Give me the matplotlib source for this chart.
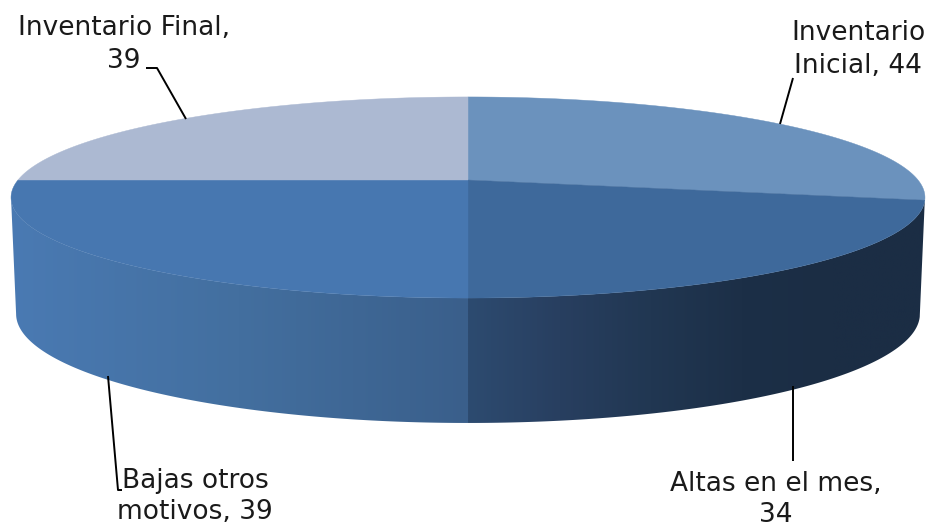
import numpy as np
import matplotlib
matplotlib.use('Agg')
import matplotlib.pyplot as plt
from matplotlib.patches import Polygon
from matplotlib.colors import LinearSegmentedColormap

# clockwise from 12 o'clock
categories = ['Inventario\nInicial', 'Altas en el mes', 'Bajas otros\nmotivos', 'Inventario Final']
values = [44, 34, 39, 39]
top_colors = ['#6b92bd', '#3e699b', '#4777b0', '#acb9d2']

# wall colours, left to right
wall_colors = {1: ['#2d4b70', '#283f60', '#213752', '#1c2f47', '#1b2d44', '#1b2d44'],
               2: ['#4a7ab3', '#436f9f', '#3a5f8b']}

label_pos = [(858, 49.5), (776, 499.5), (195, 496.5), (124, 44.5)]
label_lines = [
    [(793, 78), (780, 124)],
    [(793, 386), (793, 461)],
    [(108, 376), (118, 490), (122, 490)],
    [(146, 68), (157, 68), (186, 119)],
]

cx, cy = 468, 180
k = 0.174


def rim(theta, b, a, y0):
    # pie circle seen in perspective, theta clockwise from top
    x = np.sin(theta)
    y = np.cos(theta)
    return cx + b * x / (1 + k * y), y0 - a * y / (1 + k * y)


def top_rim(theta):
    return rim(theta, 450, 97.5, cy)


def bottom_rim(theta):
    return rim(theta, 445, 105.7, 295)


fig = plt.figure(figsize=(9.31, 5.27), dpi=100)
ax = fig.add_axes([0, 0, 1, 1])
ax.axis('off')

edges = np.cumsum([0] + values) / sum(values) * 2 * np.pi
silhouette = np.arccos(-k)

# side walls
for i in wall_colors:
    t = np.linspace(max(edges[i], silhouette), min(edges[i + 1], 2 * np.pi - silhouette), 200)
    tx, ty = top_rim(t)
    bx, by = bottom_rim(t)
    pts = np.r_[np.c_[tx, ty], np.c_[bx, by][::-1]]
    poly = Polygon(pts, closed=True, fc='none', ec='none')
    ax.add_patch(poly)
    x0, x1 = pts[:, 0].min(), pts[:, 0].max()
    cmap = LinearSegmentedColormap.from_list('wall', wall_colors[i])
    im = ax.imshow(np.linspace(0, 1, 256)[None, :], cmap=cmap, aspect='auto',
                   extent=[x0, x1, pts[:, 1].max(), pts[:, 1].min()], zorder=2)
    im.set_clip_path(poly)
ax.set_xlim(0, 931)
ax.set_ylim(527, 0)

# top faces
for i, c in enumerate(top_colors):
    t = np.linspace(edges[i], edges[i + 1], 150)
    x, y = top_rim(t)
    ax.add_patch(Polygon(np.c_[np.r_[cx, x], np.r_[cy, y]], closed=True, fc=c, ec=c, lw=0.3, zorder=3))

# labels and leader lines
for name, v, (lx, ly), line in zip(categories, values, label_pos, label_lines):
    if '\n' in name:
        txt = f'{name}, {v}'
    else:
        txt = f'{name},\n{v}'
    ax.text(lx, ly, txt, ha='center', va='center', fontsize=19, family='DejaVu Sans',
            color='#1a1a1a', linespacing=1.3, zorder=5)
    pts = np.array(line)
    ax.plot(pts[:, 0], pts[:, 1], color='black', lw=1.4, zorder=4, solid_capstyle='butt')

fig.savefig('out.png', dpi=100)
